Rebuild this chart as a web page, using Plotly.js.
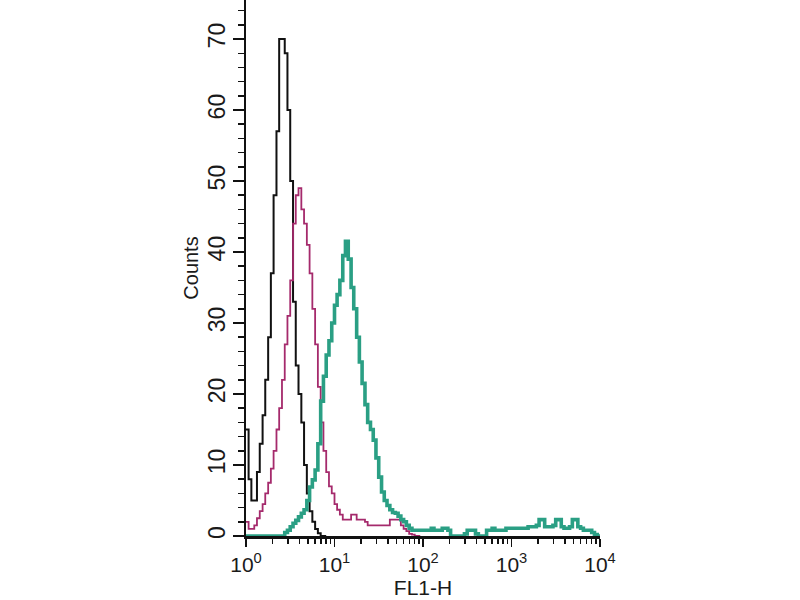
<!DOCTYPE html>
<html>
<head>
<meta charset="utf-8">
<script src="https://cdn.plot.ly/plotly-3.0.1.min.js"></script>
<style>html,body{margin:0;padding:0;background:#fff;}#chart{width:800px;height:600px;}</style>
</head>
<body>
<div id="chart"></div>
<script>
// FL1-H channel edges (log scale, 10^0 .. 10^4)
const fl1H = [
  1.00, 1.07, 1.15, 1.24, 1.33, 1.43, 1.54, 1.65, 1.78, 1.91, 2.05, 2.21, 2.37, 2.55, 2.74, 2.94,
  3.16, 3.40, 3.65, 3.92, 4.22, 4.53, 4.87, 5.23, 5.62, 6.04, 6.49, 6.98, 7.50, 8.06, 8.66, 9.31,
  10.0, 10.7, 11.5, 12.4, 13.3, 14.3, 15.4, 16.5, 17.8, 19.1, 20.5, 22.1, 23.7, 25.5, 27.4, 29.4,
  31.6, 34.0, 36.5, 39.2, 42.2, 45.3, 48.7, 52.3, 56.2, 60.4, 64.9, 69.8, 75.0, 80.6, 86.6, 93.1,
  100, 107, 115, 124, 133, 143, 154, 165, 178, 191, 205, 221, 237, 255, 274, 294,
  316, 340, 365, 392, 422, 453, 487, 523, 562, 604, 649, 698, 750, 806, 866, 931,
  1000, 1070, 1150, 1240, 1330, 1430, 1540, 1650, 1780, 1910, 2050, 2210, 2370, 2550, 2740, 2940,
  3160, 3400, 3650, 3920, 4220, 4530, 4870, 5230, 5620, 6040, 6490, 6980, 7500, 8060, 8660, 9310,
  10000
];

// Isotype / unstained control (black)
const controlCounts = [
  15, 8, 5, 5, 9, 13, 17, 22, 28, 37, 48, 57, 70, 70, 68, 60,
  50, 33, 24, 20, 16, 10, 6, 3.5, 2, 1, 0.4, 0, 0, 0
];

// Magenta sample
const magentaCounts = [
  2, 1, 1, 1.5, 2.5, 3.5, 4.5, 6, 7.5, 9.5, 12, 15, 18, 22, 27, 31,
  36, 44, 48, 49, 46, 44, 41, 37, 32, 27, 21, 16, 12, 9, 7, 6,
  4.5, 3.7, 3, 2.3, 2.3, 2.3, 3, 3, 2.3, 2.3, 2.3, 2, 1.5, 1.5, 1.5, 1.5,
  1.5, 1.5, 1.5, 1.5, 2.3, 2.3, 2.3, 2.3, 1.5, 1, 0.7, 0.3, 0.2, 0, 0, 0
];

// Teal sample (stained)
const tealCounts = [
  0, 0, 0, 0, 0, 0, 0, 0, 0, 0, 0, 0, 0, 0, 0.5, 0.8,
  1.3, 1.8, 2.2, 2.7, 3.2, 3.7, 5, 6.9, 7.9, 9.3, 13, 19, 22.5, 25.5, 27.5, 30,
  32.5, 34, 36, 39.5, 41.5, 39, 35, 32, 28, 24.5, 21.5, 18.5, 16, 15, 13.5, 11,
  8.3, 6.2, 5, 4.3, 3.7, 3.3, 3.2, 2.8, 2.3, 2, 1.5, 1.1, 0.8, 0.8, 0.8, 0.8,
  0.8, 0.8, 0.8, 1.1, 0.8, 0.8, 0.8, 1.1, 1.1, 0.8, 0, 0, 0, 0, 0, 0.3,
  0.8, 0.8, 0.8, 0.3, 0, 0, 0, 0.8, 0.8, 1.1, 0.8, 0.8, 0.8, 0.8, 1.1, 1.1,
  1.1, 1.1, 1.1, 1.1, 1.1, 1.1, 1.3, 1.3, 1.3, 1.5, 2.3, 2.3, 1.3, 1.3, 1.3, 1.5,
  2.3, 2.3, 1.3, 1.1, 1.1, 1.3, 2.3, 2.3, 1.3, 1.1, 0.8, 0.8, 0.8, 0.5, 0.2, 0,
  0
];

const xTickVals = [1, 10, 100, 1000, 10000];
const xTickText = ['10<sup>0</sup>', '10<sup>1</sup>', '10<sup>2</sup>', '10<sup>3</sup>', '10<sup>4</sup>'];
const yTickVals = [0, 10, 20, 30, 40, 50, 60, 70];

function stepTrace(counts, color, width) {
  return {
    x: fl1H.slice(0, counts.length),
    y: counts,
    type: 'scatter',
    mode: 'lines',
    line: {color: color, width: width, shape: 'hv'},
    hoverinfo: 'skip',
    showlegend: false
  };
}

const data = [
  stepTrace(controlCounts, '#111111', 2),
  stepTrace(magentaCounts, '#a52a6c', 1.8),
  stepTrace(tealCounts, '#2a9f84', 3.6)
];

const fam = 'Liberation Sans, Arial, sans-serif';
const txt = '#1a1a1a';

const layout = {
  width: 800, height: 600,
  margin: {l: 246, r: 200, t: 0, b: 64, pad: 0},
  paper_bgcolor: '#fff', plot_bgcolor: '#fff',
  font: {family: fam, size: 18, color: txt},
  showlegend: false,
  xaxis: {
    type: 'log',
    range: [0, 4],
    tickvals: xTickVals,
    ticktext: xTickText,
    ticks: 'outside', ticklen: 8, tickwidth: 1.8, tickcolor: '#111',
    minor: {ticks: 'outside', ticklen: 5, tickwidth: 1.5, tickcolor: '#111', dtick: 'D1', showgrid: false},
    showline: true, linecolor: '#111', linewidth: 2.5,
    showgrid: false, zeroline: false,
    tickfont: {family: fam, size: 21, color: txt},
    title: {text: 'FL1-H', font: {family: fam, size: 21, color: txt}, standoff: 4},
    automargin: false
  },
  yaxis: {
    range: [0, 75.5],
    tickvals: yTickVals,
    tickangle: -90,
    ticks: 'outside', ticklen: 11, tickwidth: 1.8, tickcolor: '#111',
    minor: {ticks: 'outside', ticklen: 6, tickwidth: 1.5, tickcolor: '#111', dtick: 2, showgrid: false},
    showline: true, linecolor: '#111', linewidth: 2.5,
    showgrid: false, zeroline: false,
    ticklabelstandoff: -2,
    tickfont: {family: fam, size: 23, color: txt},
    title: {text: 'Counts', font: {family: fam, size: 20, color: txt}, standoff: 1},
    automargin: false
  }
};

Plotly.newPlot('chart', data, layout, {staticPlot: true, displayModeBar: false});
</script>
</body>
</html>
